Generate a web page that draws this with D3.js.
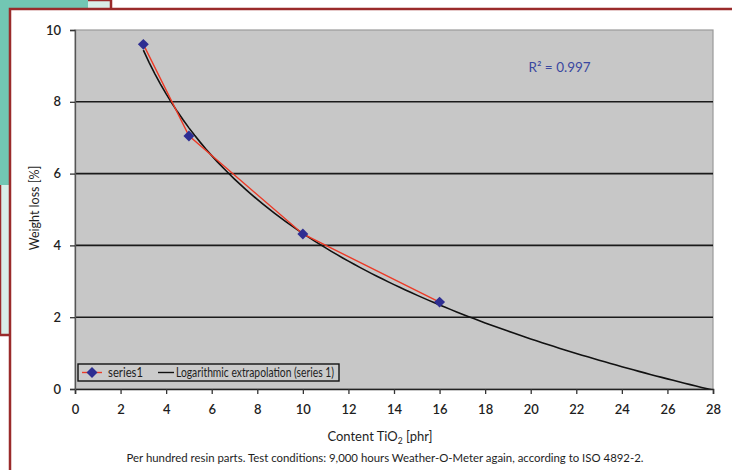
<!DOCTYPE html>
<html>
<head>
<meta charset="utf-8">
<script src="https://cdn.jsdelivr.net/npm/d3@7"></script>
<style>
  body { margin: 0; background: #fff; }
  svg text { font-family: Lato, "Noto Sans", sans-serif; fill: #1e1e1e; }
</style>
</head>
<body>
<svg id="chart" width="732" height="470"></svg>
<script>
// data
const contentTiO2 = [3, 5, 10, 16];
const weightLoss = [9.6, 7.05, 4.32, 2.42];
const xTicks = [0, 2, 4, 6, 8, 10, 12, 14, 16, 18, 20, 22, 24, 26, 28];
const yTicks = [0, 2, 4, 6, 8, 10];
const gridValues = [2, 4, 6, 8];
const fitRange = [3, 28];
const rSquaredLabel = "R² = 0.997";

const svg = d3.select("#chart");
const width = 732, height = 470;
const margin = { top: 30, right: 19, bottom: 81, left: 75 };
const plotW = width - margin.left - margin.right;
const plotH = height - margin.top - margin.bottom;

// page background behind the frame
svg.append("rect").attr("x", 0).attr("y", 0).attr("width", 111).attr("height", 335)
    .attr("fill", "#d8eee8").attr("stroke", "#9a2b2b").attr("stroke-width", 2.5);
svg.append("rect").attr("x", 0).attr("y", 0).attr("width", 88).attr("height", 185)
    .attr("fill", "#72c6b3");
svg.append("rect").attr("x", 10).attr("y", 9).attr("width", 760).attr("height", 500)
    .attr("fill", "#fff").attr("stroke", "#9a2b2b").attr("stroke-width", 2.5);

const x = d3.scaleLinear().domain([0, 28]).range([0, plotW]);
const y = d3.scaleLinear().domain([0, 10]).range([plotH, 0]);

const g = svg.append("g").attr("transform", `translate(${margin.left},${margin.top})`);

g.append("defs").append("clipPath").attr("id", "plotClip")
    .append("rect").attr("width", plotW).attr("height", plotH);

g.append("rect").attr("width", plotW).attr("height", plotH)
    .attr("fill", "#c7c7c7").attr("stroke", "#9a9a9a").attr("stroke-width", 1.2);

g.selectAll(".grid").data(gridValues).enter().append("line")
    .attr("x1", 0).attr("x2", plotW)
    .attr("y1", d => y(d)).attr("y2", d => y(d))
    .attr("stroke", "#1a1a1a").attr("stroke-width", 1.6);

// axes
const xAxis = g.append("g").attr("transform", `translate(0,${plotH})`)
    .call(d3.axisBottom(x).tickValues(xTicks).tickSize(5).tickPadding(11));
const yAxis = g.append("g")
    .call(d3.axisLeft(y).tickValues(yTicks).tickSize(5).tickPadding(9));
[xAxis, yAxis].forEach(a => {
    a.selectAll("text").attr("font-size", 13).attr("font-weight", 600).style("fill", "#1e1e1e");
    a.selectAll("line").attr("stroke", "#333").attr("stroke-width", 1.3);
});
xAxis.select(".domain").attr("stroke", "#222").attr("stroke-width", 1.5);
yAxis.select(".domain").attr("stroke", "#555").attr("stroke-width", 1.3);

// logarithmic least-squares fit of the series
const lx = contentTiO2.map(Math.log);
const mx = d3.mean(lx), my = d3.mean(weightLoss);
const slope = d3.sum(lx, (v, i) => (v - mx) * (weightLoss[i] - my)) / d3.sum(lx, v => (v - mx) ** 2);
const intercept = my - slope * mx;
const fitX = d3.range(fitRange[0], fitRange[1] + 0.001, 0.25);

const plot = g.append("g").attr("clip-path", "url(#plotClip)");
plot.append("path")
    .datum(fitX)
    .attr("fill", "none").attr("stroke", "#111").attr("stroke-width", 1.6)
    .attr("d", d3.line().x(d => x(d)).y(d => y(intercept + slope * Math.log(d))));

const pts = contentTiO2.map((v, i) => ({ x: v, y: weightLoss[i] }));
g.append("path").datum(pts)
    .attr("fill", "none").attr("stroke", "#ec3a26").attr("stroke-width", 1.4)
    .attr("d", d3.line().x(d => x(d.x)).y(d => y(d.y)));

const diamond = d3.symbol().type(d3.symbolSquare).size(60);
g.selectAll(".pt").data(pts).enter().append("path")
    .attr("d", diamond)
    .attr("transform", d => `translate(${x(d.x)},${y(d.y)}) rotate(45)`)
    .attr("fill", "#2e2e92");

g.append("text").attr("x", x(19.9)).attr("y", y(8.83))
    .attr("font-size", 13.5).style("fill", "#3a48a0")
    .text(rSquaredLabel);

// legend
const leg = g.append("g").attr("transform", `translate(3,${plotH - 25})`);
leg.append("rect").attr("width", 261).attr("height", 17)
    .attr("fill", "#cbcbcb").attr("stroke", "#111").attr("stroke-width", 1.4);
leg.append("line").attr("x1", 4).attr("x2", 24).attr("y1", 8.5).attr("y2", 8.5)
    .attr("stroke", "#ec3a26").attr("stroke-width", 1.4);
leg.append("path").attr("d", diamond).attr("transform", "translate(14,8.5) rotate(45)")
    .attr("fill", "#2e2e92");
leg.append("text").attr("x", 30).attr("y", 13).attr("font-size", 12.5)
    .attr("textLength", 35).attr("lengthAdjust", "spacingAndGlyphs").text("series1");
leg.append("line").attr("x1", 80).attr("x2", 96).attr("y1", 8.5).attr("y2", 8.5)
    .attr("stroke", "#111").attr("stroke-width", 1.4);
leg.append("text").attr("x", 98).attr("y", 13).attr("font-size", 12.5)
    .attr("textLength", 158).attr("lengthAdjust", "spacingAndGlyphs")
    .text("Logarithmic extrapolation (series 1)");

// titles
const xt = svg.append("text").attr("x", 380).attr("y", 441)
    .attr("text-anchor", "middle").attr("font-size", 13);
xt.append("tspan").text("Content TiO");
xt.append("tspan").attr("font-size", 8.5).attr("dy", 3).text("2");
xt.append("tspan").attr("dy", -3).text(" [phr]");

svg.append("text").attr("transform", "translate(39,208) rotate(-90)")
    .attr("text-anchor", "middle").attr("font-size", 12.5).text("Weight loss [%]");

svg.append("text").attr("x", 385).attr("y", 462)
    .attr("text-anchor", "middle").attr("font-size", 11.4)
    .text("Per hundred resin parts. Test conditions: 9,000 hours Weather-O-Meter again, according to ISO 4892-2.");
</script>
</body>
</html>
